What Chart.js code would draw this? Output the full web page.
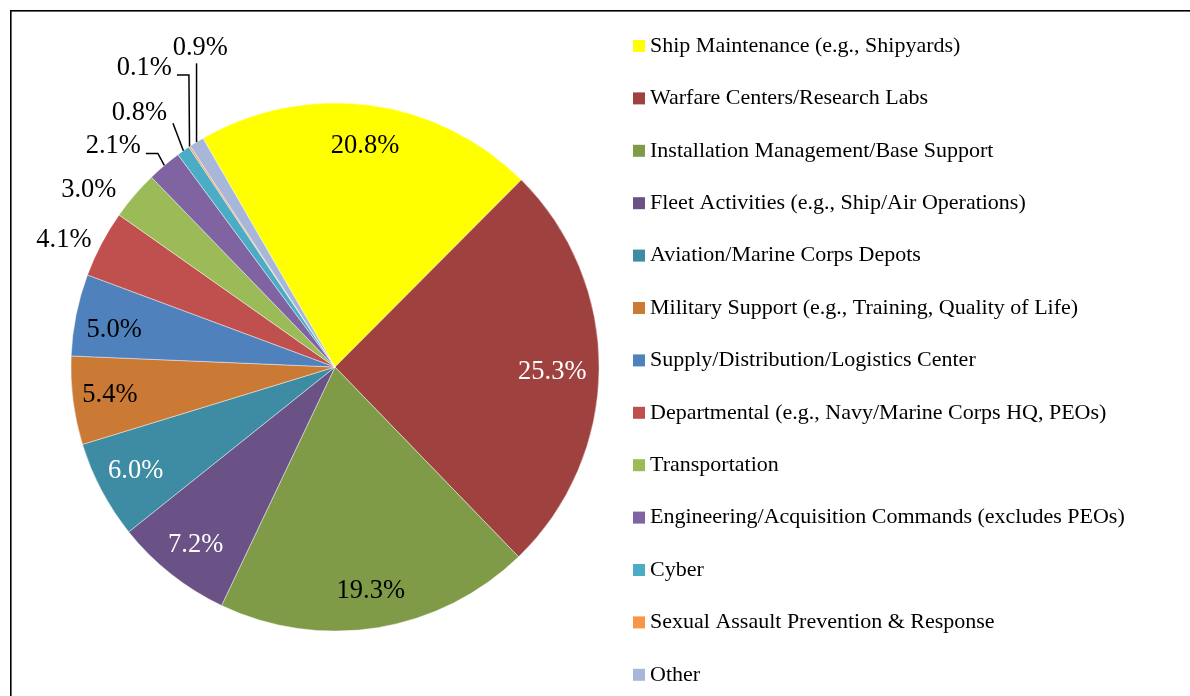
<!DOCTYPE html>
<html><head><meta charset="utf-8">
<script src="https://cdn.jsdelivr.net/npm/chart.js@4.4.1/dist/chart.umd.min.js"></script>
<style>
html,body{margin:0;padding:0;background:#fff;overflow:hidden}
canvas{display:block}
</style></head>
<body>
<canvas id="c" width="1190" height="696"></canvas>
<script>
// ---- data ----
const categories = [
  'Ship Maintenance (e.g., Shipyards)',
  'Warfare Centers/Research Labs',
  'Installation Management/Base Support',
  'Fleet Activities (e.g., Ship/Air Operations)',
  'Aviation/Marine Corps Depots',
  'Military Support (e.g., Training, Quality of Life)',
  'Supply/Distribution/Logistics Center',
  'Departmental (e.g., Navy/Marine Corps HQ, PEOs)',
  'Transportation',
  'Engineering/Acquisition Commands (excludes PEOs)',
  'Cyber',
  'Sexual Assault Prevention & Response',
  'Other'
];
const shares = [20.8, 25.3, 19.3, 7.2, 6.0, 5.4, 5.0, 4.1, 3.0, 2.1, 0.8, 0.1, 0.9];
const valueLabels = shares.map(v => v.toFixed(1) + '%');

// ---- styles ----
const sliceColors = ['#FFFF00','#9E413F','#7F9B48','#6A5287','#3D8CA4','#CB7A36',
  '#4F81BD','#C0504D','#9BBB59','#8064A2','#4BACC6','#F79646','#A8B7D9'];
const labelColors = ['#000','#fff','#000','#fff','#fff','#000','#000','#000','#000','#000','#000','#000','#000'];
// label placement: [radius factor, angle offset from slice middle (deg)]
const labelPlacement = [[0.843,0.3],[0.823,0.9],[0.858,0.2],[0.855,-0.3],[0.851,0.3],[0.859,0.1],
  [0.848,-1.8],[1.134,-2.6],[1.149,-4.8],[1.184,-4.9],[1.213,-2.6],[1.343,0.9],[1.31,8.7]];
const leaderKinds = [null,null,null,null,null,null,null,null,null,'h','d','h','v'];
const serif = '"Liberation Serif", "Times New Roman", serif';

const framePlugin = {
  id: 'frame',
  beforeDraw(chart) {
    const ctx = chart.ctx;
    ctx.save();
    ctx.fillStyle = '#000';
    ctx.fillRect(10, 10, 1180, 1.6);
    ctx.fillRect(10, 10, 1.6, 686);
    ctx.restore();
  }
};

const labelPlugin = {
  id: 'sliceLabels',
  afterDatasetsDraw(chart) {
    const ctx = chart.ctx;
    const meta = chart.getDatasetMeta(0);
    ctx.save();
    ctx.font = '26.5px ' + serif;
    ctx.textAlign = 'center';
    ctx.textBaseline = 'middle';
    meta.data.forEach((arc, i) => {
      const {x, y, startAngle, endAngle, outerRadius} = arc.getProps(['x','y','startAngle','endAngle','outerRadius'], true);
      const mid = (startAngle + endAngle) / 2;
      const [rf, da] = labelPlacement[i];
      const a = mid + da * Math.PI / 180;
      const cx = x + rf * outerRadius * Math.cos(a);
      const cy = y + rf * outerRadius * Math.sin(a);
      const w = ctx.measureText(valueLabels[i]).width;
      const ex = x + outerRadius * Math.cos(mid);
      const ey = y + outerRadius * Math.sin(mid);
      const kind = leaderKinds[i];
      if (kind) {
        ctx.strokeStyle = '#000';
        ctx.lineWidth = 1.5;
        ctx.beginPath();
        if (kind === 'v') {
          ctx.moveTo(ex, cy + 15);
          ctx.lineTo(ex, ey);
        } else if (kind === 'h') {
          const y0 = cy + 7;
          ctx.moveTo(cx + w / 2 + 5, y0);
          ctx.lineTo(cx + w / 2 + 17, y0);
          ctx.lineTo(ex, ey);
        } else {
          ctx.moveTo(cx + w / 2 + 6, cy + 10);
          ctx.lineTo(ex, ey);
        }
        ctx.stroke();
      }
      ctx.fillStyle = labelColors[i];
      ctx.fillText(valueLabels[i], cx, cy);
    });
    ctx.restore();
  }
};

const legendPlugin = {
  id: 'sideLegend',
  afterDraw(chart) {
    const ctx = chart.ctx;
    const labels = chart.data.labels;
    const bg = chart.data.datasets[0].backgroundColor;
    ctx.save();
    ctx.font = '22px ' + serif;
    ctx.textAlign = 'left';
    ctx.textBaseline = 'middle';
    labels.forEach((lab, i) => {
      const cy = 46 + i * 52.4;
      ctx.fillStyle = bg[i];
      ctx.fillRect(633, cy - 6, 12, 12);
      ctx.fillStyle = '#000';
      ctx.fillText(lab, 650, cy);
    });
    ctx.restore();
  }
};

new Chart(document.getElementById('c'), {
  type: 'pie',
  data: {
    labels: categories,
    datasets: [{
      data: shares,
      backgroundColor: sliceColors,
      borderColor: 'rgba(255,255,255,0.55)',
      borderWidth: 0.8
    }]
  },
  options: {
    responsive: false,
    animation: false,
    events: [],
    rotation: -30,
    layout: { padding: { left: 70.5, top: 102.5, right: 590.5, bottom: 64.5 } },
    plugins: { legend: { display: false }, tooltip: { enabled: false } }
  },
  plugins: [framePlugin, labelPlugin, legendPlugin]
});
</script>
</body></html>
